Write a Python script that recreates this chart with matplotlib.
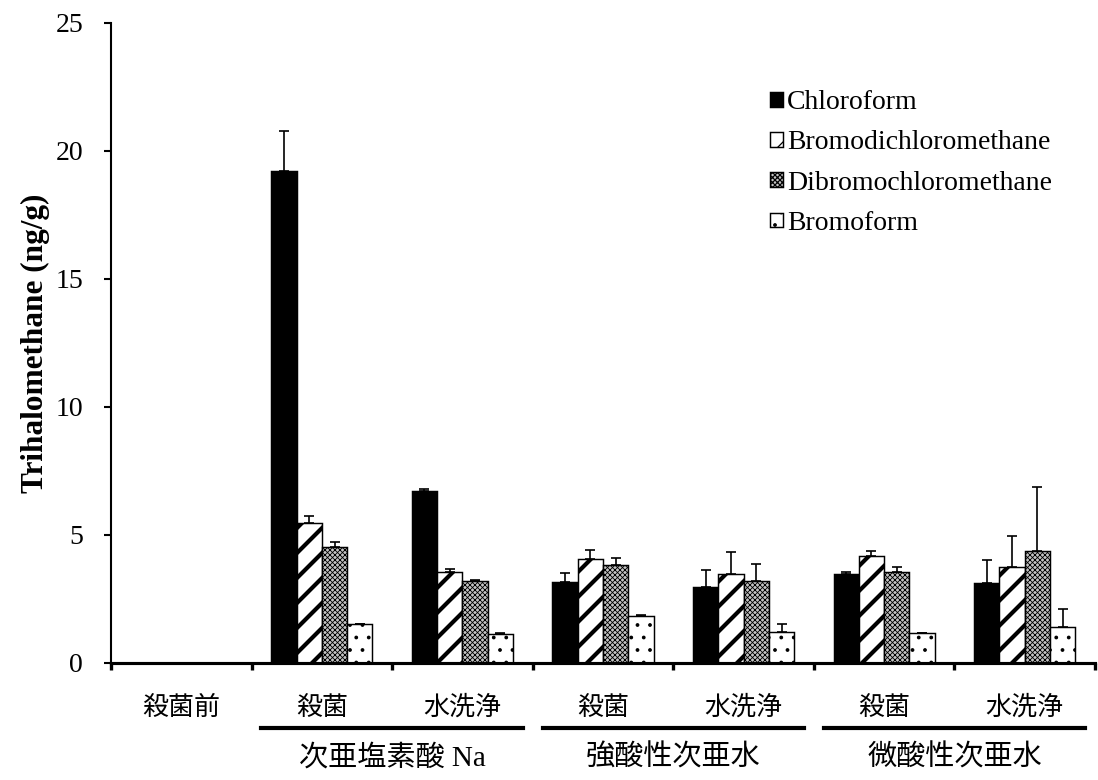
import numpy as np
import matplotlib
matplotlib.use('Agg')
import matplotlib.pyplot as plt

# columns of the chart (first one has no measurements)
categories = ['殺菌前', '殺菌', '水洗浄', '殺菌', '水洗浄', '殺菌', '水洗浄']
groups = ['次亜塩素酸 Na', '強酸性次亜水', '微酸性次亜水']
series = ['Chloroform', 'Bromodichloromethane', 'Dibromochloromethane', 'Bromoform']

chloroform = [0, 19.2, 6.72, 3.15, 2.98, 3.47, 3.12]
chloroform_sd = [0, 1.6, 0.08, 0.36, 0.64, 0.08, 0.9]
bromodichloro = [0, 5.45, 3.55, 4.06, 3.48, 4.18, 3.74]
bromodichloro_sd = [0, 0.3, 0.12, 0.35, 0.86, 0.2, 1.22]
dibromochloro = [0, 4.53, 3.2, 3.83, 3.2, 3.55, 4.37]
dibromochloro_sd = [0, 0.2, 0.05, 0.27, 0.67, 0.2, 2.5]
bromoform = [0, 1.52, 1.13, 1.84, 1.2, 1.17, 1.4]
bromoform_sd = [0, 0.02, 0.03, 0.04, 0.32, 0.02, 0.7]

values = [chloroform, bromodichloro, dibromochloro, bromoform]
errors = [chloroform_sd, bromodichloro_sd, dibromochloro_sd, bromoform_sd]

serif = 'Liberation Serif'
cjk = 'Noto Sans CJK JP'

# bar looks: (facecolor, hatch, hatch linewidth)
styles = [('black', None, 0.5),
          ('white', '//', 2.0),
          ('#c4c4c4', 'xxxxxxxxxx', 0.4),
          ('white', '..', 0.6)]

fig = plt.figure(figsize=(7.32, 5.2), dpi=150)
ax = fig.add_axes([111 / 1098, 117 / 780, 984 / 1098, 640 / 780])

x = np.arange(len(categories))
width = 0.18
offsets = (np.arange(4) - 1.5) * width

handles = []
for k in range(4):
    fc, hatch, hlw = styles[k]
    plt.rcParams['hatch.linewidth'] = hlw
    bars = ax.bar(x + offsets[k], values[k], width, color=fc, edgecolor='black',
                  linewidth=0.7, hatch=hatch, label=series[k], zorder=2)
    for p in bars:
        if hasattr(p, 'set_hatch_linewidth'):
            p.set_hatch_linewidth(hlw)
    ax.errorbar(x + offsets[k], values[k], yerr=[np.zeros(len(x)), errors[k]],
                fmt='none', ecolor='black', elinewidth=0.8, capsize=2.5,
                capthick=0.8, zorder=3)
    handles.append(bars)

ax.set_xlim(-0.5, len(categories) - 0.5)
ax.set_ylim(0, 25)
ax.set_yticks([0, 5, 10, 15, 20, 25])
ax.set_xticks(np.arange(-0.5, len(categories)))
ax.set_xticklabels([])
for lbl in ax.get_yticklabels():
    lbl.set_fontfamily(serif)
    lbl.set_fontsize(13.3)
ax.tick_params(axis='y', length=3.4, width=1.0, pad=10)
ax.tick_params(axis='x', length=3.4, width=1.6)
ax.spines['top'].set_visible(False)
ax.spines['right'].set_visible(False)
ax.spines['left'].set_linewidth(1.0)
ax.spines['bottom'].set_linewidth(1.5)

ax.set_ylabel('Trihalomethane (ng/g)', fontsize=15, fontweight='bold', family=serif)
ax.yaxis.set_label_coords(-0.062, 0.5)

# category labels, underlines and group names below the axis
tr = ax.get_xaxis_transform()
for i, c in enumerate(categories):
    ax.text(i, -0.069, c, transform=tr, ha='center', va='center',
            fontsize=12.5, family=cjk)
for j, g in enumerate(groups):
    cx = 1.5 + 2 * j
    ax.plot([cx - 0.93, cx + 0.93], [-0.102, -0.102], transform=tr,
            color='black', lw=2.0, clip_on=False)
    ax.text(cx, -0.148, g, transform=tr, ha='center', va='center',
            fontsize=14, family=[serif, cjk])

ax.legend(handles=handles, loc='upper left', bbox_to_anchor=(0.67, 0.895),
          frameon=False, prop={'family': serif, 'size': 13.3},
          handlelength=0.45, handleheight=0.45, handletextpad=0.15,
          labelspacing=0.55, borderpad=0, borderaxespad=0)

fig.savefig('out.png', dpi=150)
